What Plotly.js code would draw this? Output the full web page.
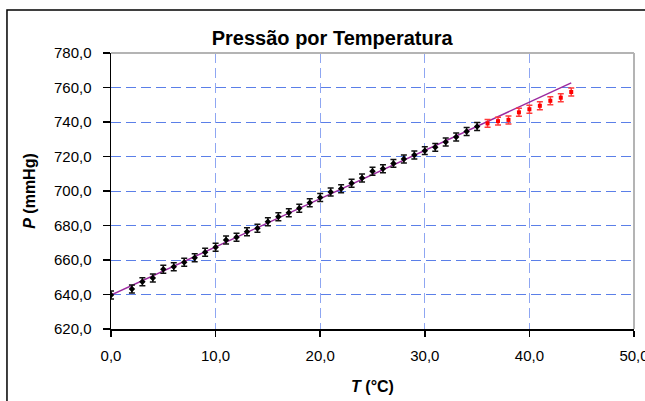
<!DOCTYPE html>
<html>
<head>
<meta charset="utf-8">
<script src="https://cdn.plot.ly/plotly-3.0.1.min.js"></script>
<style>
html,body{margin:0;padding:0;background:#fff;overflow:hidden;}
#chart{width:645px;height:401px;}
</style>
</head>
<body>
<div id="chart"></div>
<script>
// Measured points (black) used for the fit
const tFit = [0, 2, 3, 4, 5, 6, 7, 8, 9, 10, 11, 12, 13, 14, 15, 16, 17, 18, 19, 20, 21, 22, 23, 24, 25, 26, 27, 28, 29, 30, 31, 32, 33, 34, 35];
const pFit = [639.7, 643.2, 647.4, 649.6, 654.6, 656.1, 658.7, 661.3, 664.5, 667.4, 671.6, 673.2, 676.4, 678.4, 682.2, 685.1, 687.4, 690.0, 693.2, 696.2, 699.4, 701.3, 704.5, 707.5, 711.4, 712.9, 716.0, 718.6, 720.9, 723.4, 725.3, 728.4, 731.3, 734.5, 737.4];
// Points excluded from the fit (red)
const tOut = [36, 37, 38, 39, 40, 41, 42, 43, 44];
const pOut = [739.2, 740.5, 741.2, 745.6, 747.4, 749.4, 752.3, 754.1, 757.4];
// Error of each measurement (mmHg)
const errP = 2.3;
// Linear fit line end points
const lineT = [0, 44];
const lineP = [639.6, 762.7];

const fontFam = '"Liberation Sans", Arial, sans-serif';

const traces = [
  {
    x: lineT, y: lineP, mode: 'lines', type: 'scatter',
    line: {color: '#9c2aa0', width: 1.5}, hoverinfo: 'skip', showlegend: false
  },
  {
    x: tFit, y: pFit, mode: 'markers', type: 'scatter',
    marker: {symbol: 'diamond', size: 5, color: '#000000'},
    error_y: {type: 'constant', value: errP, color: '#111111', thickness: 1.5, width: 3},
    showlegend: false
  },
  {
    x: tOut, y: pOut, mode: 'markers', type: 'scatter',
    marker: {symbol: 'square', size: 4, color: '#ff0000'},
    error_y: {type: 'constant', value: errP, color: '#ff3b3b', thickness: 1.5, width: 3},
    showlegend: false
  }
];

const layout = {
  width: 645, height: 401,
  margin: {l: 111, r: 11, t: 53, b: 72, pad: 0},
  paper_bgcolor: '#ffffff', plot_bgcolor: '#ffffff',
  separators: ',.',
  font: {family: fontFam, size: 15, color: '#000'},
  title: {
    text: '<b>Pressão por Temperatura</b>',
    font: {family: fontFam, size: 20, color: '#000'},
    x: 0.515, xanchor: 'center', y: 0.905, yanchor: 'middle'
  },
  xaxis: {
    range: [0, 50], dtick: 10, tick0: 0, tickformat: '.1f',
    showgrid: true, gridcolor: '#8ea6f2', griddash: '10px,5px', gridwidth: 1,
    zeroline: false, showline: true, linecolor: '#000', linewidth: 1.5,
    ticks: 'outside', ticklen: 6, tickcolor: '#000', tickwidth: 1.5,
    ticklabelstandoff: 6, ticklabeloverflow: 'allow',
    tickfont: {family: fontFam, size: 15, color: '#000'},
    title: {text: '<b><i>T</i> (°C)</b>', font: {family: fontFam, size: 16, color: '#000'}, standoff: 18}
  },
  yaxis: {
    range: [620, 780], dtick: 20, tick0: 620, tickformat: '.1f',
    showgrid: true, gridcolor: '#5b7fe8', griddash: '10px,5px', gridwidth: 1,
    zeroline: false, showline: true, linecolor: '#000', linewidth: 1.5,
    ticks: 'outside', ticklen: 7, tickcolor: '#000', tickwidth: 1.5,
    ticklabelstandoff: 8, ticklabeloverflow: 'allow',
    tickfont: {family: fontFam, size: 15, color: '#000'},
    title: {text: '<b><i>P</i> (mmHg)</b>', font: {family: fontFam, size: 16, color: '#000'}, standoff: 14}
  },
  shapes: [
    {type: 'line', xref: 'paper', yref: 'paper', x0: 0, x1: 1, y0: 1, y1: 1, line: {color: '#b4b4b4', width: 2}, layer: 'above'},
    {type: 'line', xref: 'paper', yref: 'paper', x0: 1, x1: 1, y0: 0, y1: 1, line: {color: '#b4b4b4', width: 2}, layer: 'above'},
    {type: 'rect', xref: 'paper', yref: 'paper', x0: -0.1989, x1: 1.2, y0: -0.4, y1: 1.1558, line: {color: '#000', width: 1.5}, layer: 'below'}
  ]
};

Plotly.newPlot('chart', traces, layout, {staticPlot: true, displayModeBar: false});
</script>
</body>
</html>
